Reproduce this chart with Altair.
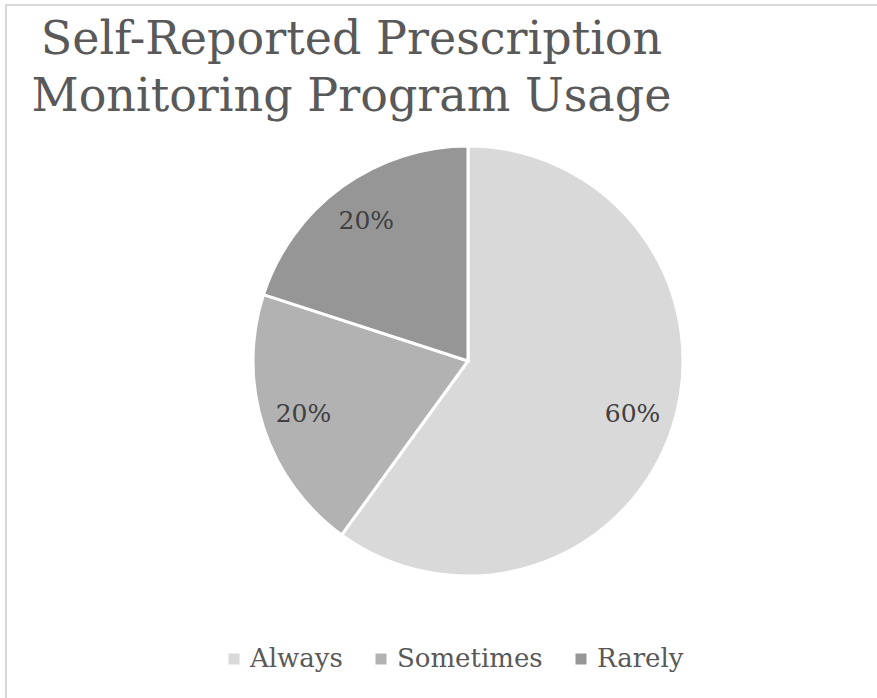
import altair as alt
import pandas as pd

categories = ["Always", "Sometimes", "Rarely"]
shares = [60, 20, 20]
labels = ["60%", "20%", "20%"]
colors = ["#d9d9d9", "#b2b2b2", "#969696"]

df = pd.DataFrame({
    "category": categories,
    "share": shares,
    "label": labels,
    "rank": list(range(len(categories))),
})

FONT = "DejaVu Serif"
CX, CY = 468, 361

border = alt.Chart(alt.Data(values=[{"k": 1}])).mark_rect(
    fillOpacity=0, stroke="#d9d9d9", strokeWidth=2
).encode(
    x=alt.value(6), x2=alt.value(884), y=alt.value(5), y2=alt.value(706)
)

base = alt.Chart(df)

arcs = base.mark_arc(
    radius=215, stroke="white", strokeWidth=3, x=CX, y=CY
).encode(
    theta=alt.Theta("share:Q", stack=True),
    order=alt.Order("rank:Q"),
    color=alt.Color(
        "category:N",
        scale=alt.Scale(domain=categories, range=colors),
        sort=categories,
        legend=alt.Legend(
            title=None,
            orient="none",
            legendX=221,
            legendY=646,
            direction="horizontal",
            symbolType="square",
            symbolSize=121,
            symbolStrokeWidth=0,
            labelFont=FONT,
            labelFontSize=26,
            labelColor="#595959",
            labelOffset=3,
            columnPadding=25,
            padding=0,
        ),
    ),
)

texts = base.mark_text(
    radius=173, x=CX, y=CY, font=FONT, fontSize=25, color="#404040"
).encode(
    theta=alt.Theta("share:Q", stack=True),
    order=alt.Order("rank:Q"),
    text="label:N",
)

chart = alt.layer(border, arcs, texts).properties(
    width=877,
    height=698,
    autosize=alt.AutoSizeParams(type="none"),
    padding=0,
    title=alt.Title(
        ["Self-Reported Prescription", "Monitoring Program Usage"],
        font=FONT,
        fontSize=46,
        fontWeight="normal",
        color="#595959",
        anchor="middle",
        frame="group",
        dx=-87,
        dy=125,
        lineHeight=57,
    ),
).configure_view(stroke=None)

chart.save("out.html", embed_options={"renderer": "svg", "actions": False})
